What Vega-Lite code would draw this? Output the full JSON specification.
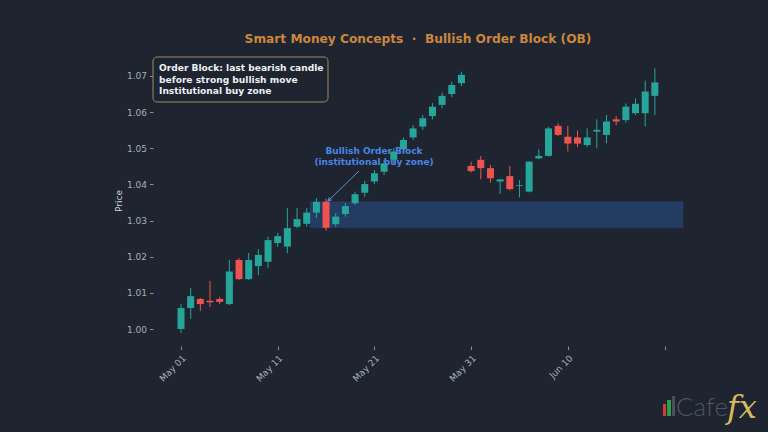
{
  "$schema": "https://vega.github.io/schema/vega-lite/v6.json",
  "width": 530,
  "height": 291,
  "autosize": {"type": "none"},
  "padding": {"left": 153, "top": 55, "right": 85, "bottom": 86},
  "background": "#1e2531",
  "config": {
    "view": {"stroke": null},
    "font": "DejaVu Sans",
    "scale": {"continuousPadding": 0},
    "axis": {"grid": false, "domain": false, "tickColor": "#8a919c", "tickSize": 3.5, "labelColor": "#a8afba", "labelFontSize": 9, "labelFont": "DejaVu Sans", "titleColor": "#d0d4da", "titleFont": "DejaVu Sans", "titleFontSize": 9, "titleFontWeight": "normal"}
  },
  "title": {"text": "Smart Money Concepts\u00a0\u00a0·\u00a0\u00a0Bullish Order Block (OB)", "color": "#cd863c", "fontSize": 12.2, "font": "DejaVu Sans", "fontWeight": "bold", "anchor": "middle", "offset": 10},
  "datasets": {
    "candles": [
      {"d": "2024-05-01", "o": 1.0000, "h": 1.0069, "l": 0.9989, "c": 1.0058},
      {"d": "2024-05-02", "o": 1.0058, "h": 1.0113, "l": 1.0028, "c": 1.0091},
      {"d": "2024-05-03", "o": 1.0083, "h": 1.0086, "l": 1.0050, "c": 1.0069},
      {"d": "2024-05-04", "o": 1.0078, "h": 1.0133, "l": 1.0061, "c": 1.0074},
      {"d": "2024-05-05", "o": 1.0083, "h": 1.0089, "l": 1.0069, "c": 1.0075},
      {"d": "2024-05-06", "o": 1.0069, "h": 1.0191, "l": 1.0066, "c": 1.0159},
      {"d": "2024-05-07", "o": 1.0191, "h": 1.0196, "l": 1.0136, "c": 1.0138},
      {"d": "2024-05-08", "o": 1.0138, "h": 1.0211, "l": 1.0136, "c": 1.0191},
      {"d": "2024-05-09", "o": 1.0174, "h": 1.0221, "l": 1.0149, "c": 1.0205},
      {"d": "2024-05-10", "o": 1.0186, "h": 1.0255, "l": 1.0169, "c": 1.0246},
      {"d": "2024-05-11", "o": 1.0238, "h": 1.0266, "l": 1.0227, "c": 1.0257},
      {"d": "2024-05-12", "o": 1.0228, "h": 1.0335, "l": 1.0210, "c": 1.0279},
      {"d": "2024-05-13", "o": 1.0283, "h": 1.0335, "l": 1.0279, "c": 1.0304},
      {"d": "2024-05-14", "o": 1.0291, "h": 1.0335, "l": 1.0283, "c": 1.0322},
      {"d": "2024-05-15", "o": 1.0322, "h": 1.0362, "l": 1.0307, "c": 1.0352},
      {"d": "2024-05-16", "o": 1.0352, "h": 1.0360, "l": 1.0272, "c": 1.0280},
      {"d": "2024-05-17", "o": 1.0290, "h": 1.0321, "l": 1.0283, "c": 1.0311},
      {"d": "2024-05-18", "o": 1.0318, "h": 1.0349, "l": 1.0311, "c": 1.0340},
      {"d": "2024-05-19", "o": 1.0348, "h": 1.0380, "l": 1.0343, "c": 1.0373},
      {"d": "2024-05-20", "o": 1.0377, "h": 1.0410, "l": 1.0366, "c": 1.0401},
      {"d": "2024-05-21", "o": 1.0408, "h": 1.0440, "l": 1.0401, "c": 1.0431},
      {"d": "2024-05-22", "o": 1.0435, "h": 1.0468, "l": 1.0426, "c": 1.0458},
      {"d": "2024-05-23", "o": 1.0468, "h": 1.0500, "l": 1.0458, "c": 1.0491},
      {"d": "2024-05-24", "o": 1.0497, "h": 1.0530, "l": 1.0488, "c": 1.0523},
      {"d": "2024-05-25", "o": 1.0530, "h": 1.0564, "l": 1.0523, "c": 1.0555},
      {"d": "2024-05-26", "o": 1.0560, "h": 1.0592, "l": 1.0551, "c": 1.0583},
      {"d": "2024-05-27", "o": 1.0589, "h": 1.0625, "l": 1.0580, "c": 1.0615},
      {"d": "2024-05-28", "o": 1.0620, "h": 1.0654, "l": 1.0611, "c": 1.0645},
      {"d": "2024-05-29", "o": 1.0650, "h": 1.0684, "l": 1.0641, "c": 1.0675},
      {"d": "2024-05-30", "o": 1.0680, "h": 1.0712, "l": 1.0672, "c": 1.0703},
      {"d": "2024-05-31", "o": 1.0451, "h": 1.0463, "l": 1.0433, "c": 1.0437},
      {"d": "2024-06-01", "o": 1.0468, "h": 1.0479, "l": 1.0414, "c": 1.0445},
      {"d": "2024-06-02", "o": 1.0445, "h": 1.0454, "l": 1.0405, "c": 1.0417},
      {"d": "2024-06-03", "o": 1.0408, "h": 1.0414, "l": 1.0374, "c": 1.0414},
      {"d": "2024-06-04", "o": 1.0423, "h": 1.0451, "l": 1.0383, "c": 1.0387},
      {"d": "2024-06-05", "o": 1.0396, "h": 1.0412, "l": 1.0364, "c": 1.0398},
      {"d": "2024-06-06", "o": 1.0380, "h": 1.0463, "l": 1.0378, "c": 1.0463},
      {"d": "2024-06-07", "o": 1.0472, "h": 1.0497, "l": 1.0470, "c": 1.0479},
      {"d": "2024-06-08", "o": 1.0479, "h": 1.0559, "l": 1.0477, "c": 1.0555},
      {"d": "2024-06-09", "o": 1.0562, "h": 1.0569, "l": 1.0534, "c": 1.0537},
      {"d": "2024-06-10", "o": 1.0532, "h": 1.0562, "l": 1.0491, "c": 1.0513},
      {"d": "2024-06-11", "o": 1.0530, "h": 1.0549, "l": 1.0503, "c": 1.0513},
      {"d": "2024-06-12", "o": 1.0509, "h": 1.0555, "l": 1.0503, "c": 1.0530},
      {"d": "2024-06-13", "o": 1.0546, "h": 1.0580, "l": 1.0500, "c": 1.0551},
      {"d": "2024-06-14", "o": 1.0537, "h": 1.0592, "l": 1.0514, "c": 1.0574},
      {"d": "2024-06-15", "o": 1.0580, "h": 1.0589, "l": 1.0564, "c": 1.0574},
      {"d": "2024-06-16", "o": 1.0578, "h": 1.0624, "l": 1.0571, "c": 1.0615},
      {"d": "2024-06-17", "o": 1.0597, "h": 1.0638, "l": 1.0592, "c": 1.0623},
      {"d": "2024-06-18", "o": 1.0597, "h": 1.0687, "l": 1.0560, "c": 1.0657},
      {"d": "2024-06-19", "o": 1.0645, "h": 1.0721, "l": 1.0592, "c": 1.0682}
    ],
    "zone": [{"x1": 1715674176000, "x2": 1719006624000, "lo": 1.0280, "hi": 1.0352}],
    "notebox": [{"x1": 1714271385600, "x2": 1715834880000, "top": 1.07525, "bot": 1.0628}],
    "notelines": [
      {"x": 1714325040000, "y": 1.0722, "t": "Order Block: last bearish candle"},
      {"x": 1714325040000, "y": 1.06875, "t": "before strong bullish move"},
      {"x": 1714325040000, "y": 1.0658, "t": "Institutional buy zone"}
    ],
    "oblabel": [
      {"x": 1716246144000, "y": 1.04924, "t": "Bullish Order Block"},
      {"x": 1716246144000, "y": 1.0462, "t": "(institutional buy zone)"}
    ],
    "arrow": [{"x1": 1716112224000, "y1": 1.04371, "x2": 1715834880000, "y2": 1.03541}],
    "logobars": [
      {"x1": 1718827776000, "x2": 1718855424000, "b": 0.97594, "t": 0.97926, "k": "r"},
      {"x1": 1718864064000, "x2": 1718899488000, "b": 0.97594, "t": 0.98036, "k": "g"},
      {"x1": 1718908992000, "x2": 1718935776000, "b": 0.97594, "t": 0.98147, "k": "s"}
    ],
    "logotext": [
      {"x": 1718944416000, "y": 0.97594, "t": "Cafe"}
    ],
    "logofx": [
      {"x": 1719399744000, "y": 0.9754, "t": "fx"}
    ]
  },
  "layer": [
    {
      "data": {"name": "zone"},
      "mark": {"type": "rect", "fill": "#2f5fb3", "opacity": 0.38, "stroke": "#3a63a8", "strokeOpacity": 0.5, "strokeWidth": 1},
      "encoding": {
        "x": {"field": "x1", "type": "temporal", "scale": {"type": "utc", "domain": [1714271385600, 1719006624000], "padding": 0},
          "axis": {"title": null, "values": [1714521600000, 1715385600000, 1716249600000, 1717113600000, 1717977600000, 1718841600000], "labelExpr": "utcFormat(datum.value, '%m%d') == '0620' ? '' : utcFormat(datum.value, '%b %d')", "labelAngle": -45, "labelAlign": "right", "labelBaseline": "top", "labelPadding": 4}},
        "x2": {"field": "x2"},
        "y": {"field": "lo", "type": "quantitative", "title": "Price", "scale": {"domain": [0.9953, 1.0758], "zero": false, "nice": false},
          "axis": {"title": "Price", "values": [1.00, 1.01, 1.02, 1.03, 1.04, 1.05, 1.06, 1.07], "format": ".2f", "labelPadding": 3, "titlePadding": 3}},
        "y2": {"field": "hi"}
      }
    },
    {
      "data": {"name": "candles"},
      "mark": {"type": "rule", "strokeWidth": 1},
      "encoding": {
        "x": {"field": "d", "type": "temporal", "title": null},
        "y": {"field": "l", "type": "quantitative", "title": "Price"},
        "y2": {"field": "h"},
        "color": {"condition": {"test": "datum.c >= datum.o", "value": "#26a69a"}, "value": "#ef5350"}
      }
    },
    {
      "data": {"name": "candles"},
      "mark": {"type": "bar", "size": 7},
      "encoding": {
        "x": {"field": "d", "type": "temporal", "title": null},
        "y": {"field": "o", "type": "quantitative", "title": "Price"},
        "y2": {"field": "c"},
        "color": {"condition": {"test": "datum.c >= datum.o", "value": "#26a69a"}, "value": "#ef5350"}
      }
    },
    {
      "data": {"name": "notebox"},
      "mark": {"type": "rect", "fill": "#1e2531", "fillOpacity": 0.9, "stroke": "#a08a64", "strokeWidth": 1, "cornerRadius": 4},
      "encoding": {
        "x": {"field": "x1", "type": "temporal", "title": null},
        "x2": {"field": "x2"},
        "y": {"field": "top", "type": "quantitative", "title": "Price"},
        "y2": {"field": "bot"}
      }
    },
    {
      "data": {"name": "notelines"},
      "mark": {"type": "text", "align": "left", "baseline": "middle", "font": "DejaVu Sans", "fontWeight": "bold", "fontSize": 9.1, "color": "#eef0f3"},
      "encoding": {
        "x": {"field": "x", "type": "temporal", "title": null},
        "y": {"field": "y", "type": "quantitative", "title": "Price"},
        "text": {"field": "t"}
      }
    },
    {
      "data": {"name": "oblabel"},
      "mark": {"type": "text", "align": "center", "baseline": "middle", "font": "DejaVu Sans", "fontWeight": "bold", "fontSize": 9, "color": "#4a84e4"},
      "encoding": {
        "x": {"field": "x", "type": "temporal", "title": null},
        "y": {"field": "y", "type": "quantitative", "title": "Price"},
        "text": {"field": "t"}
      }
    },
    {
      "data": {"name": "arrow"},
      "mark": {"type": "rule", "color": "#5b8de0", "strokeWidth": 1},
      "encoding": {
        "x": {"field": "x1", "type": "temporal", "title": null},
        "x2": {"field": "x2"},
        "y": {"field": "y1", "type": "quantitative", "title": "Price"},
        "y2": {"field": "y2"}
      }
    },
    {
      "data": {"name": "arrow"},
      "mark": {"type": "point", "shape": "M -0.5 1 L 0 0 L 0.5 1", "filled": false, "size": 50, "angle": 226, "color": "#5b8de0", "strokeWidth": 1, "opacity": 1},
      "encoding": {
        "x": {"field": "x2", "type": "temporal", "title": null},
        "y": {"field": "y2", "type": "quantitative", "title": "Price"}
      }
    },
    {
      "data": {"name": "logobars"},
      "mark": {"type": "rect"},
      "encoding": {
        "x": {"field": "x1", "type": "temporal", "title": null},
        "x2": {"field": "x2"},
        "y": {"field": "b", "type": "quantitative", "title": "Price"},
        "y2": {"field": "t"},
        "color": {"field": "k", "type": "nominal", "scale": {"domain": ["r", "g", "s"], "range": ["#d63a3a", "#2e9e4a", "#4a505c"]}, "legend": null}
      }
    },
    {
      "data": {"name": "logotext"},
      "mark": {"type": "text", "align": "left", "baseline": "alphabetic", "font": "Lato", "fontWeight": 300, "fontSize": 26, "color": "#4d5463"},
      "encoding": {
        "x": {"field": "x", "type": "temporal", "title": null},
        "y": {"field": "y", "type": "quantitative", "title": "Price"},
        "text": {"field": "t"}
      }
    },
    {
      "data": {"name": "logofx"},
      "mark": {"type": "text", "align": "left", "baseline": "alphabetic", "font": "DejaVu Serif", "fontStyle": "italic", "fontSize": 32, "color": "#d6b95e"},
      "encoding": {
        "x": {"field": "x", "type": "temporal", "title": null},
        "y": {"field": "y", "type": "quantitative", "title": "Price"},
        "text": {"field": "t"}
      }
    }
  ]
}
